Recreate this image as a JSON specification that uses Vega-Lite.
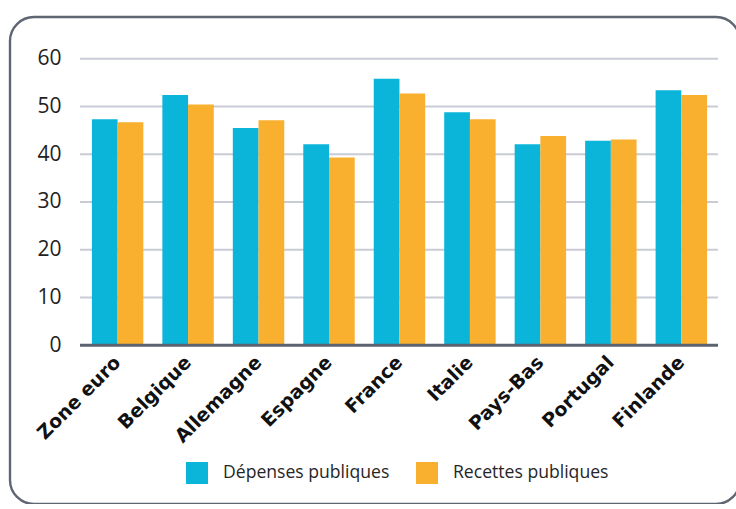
{
  "$schema": "https://vega.github.io/schema/vega-lite/v6.json",
  "width": 730,
  "height": 487,
  "autosize": "none",
  "padding": {"left": 10, "top": 17, "right": 0, "bottom": 0},
  "background": "#ffffff",
  "config": {
    "font": "Open Sans",
    "view": {"stroke": "#5f6672", "strokeWidth": 2.4, "cornerRadius": 24},
    "axisY": {
      "title": null,
      "domain": false, "ticks": false, "grid": false,
      "offset": -51, "labelPadding": 0, "labelOverlap": false,
      "labelFont": "Open Sans", "labelFontSize": 21, "labelColor": "#222222"
    }
  },
  "datasets": {
    "finances": [
      {"pays": "Zone euro", "serie": "Dépenses publiques", "v": 47.3},
      {"pays": "Zone euro", "serie": "Recettes publiques", "v": 46.7},
      {"pays": "Belgique", "serie": "Dépenses publiques", "v": 52.4},
      {"pays": "Belgique", "serie": "Recettes publiques", "v": 50.4},
      {"pays": "Allemagne", "serie": "Dépenses publiques", "v": 45.5},
      {"pays": "Allemagne", "serie": "Recettes publiques", "v": 47.1},
      {"pays": "Espagne", "serie": "Dépenses publiques", "v": 42.1},
      {"pays": "Espagne", "serie": "Recettes publiques", "v": 39.3},
      {"pays": "France", "serie": "Dépenses publiques", "v": 55.8},
      {"pays": "France", "serie": "Recettes publiques", "v": 52.7},
      {"pays": "Italie", "serie": "Dépenses publiques", "v": 48.8},
      {"pays": "Italie", "serie": "Recettes publiques", "v": 47.3},
      {"pays": "Pays-Bas", "serie": "Dépenses publiques", "v": 42.1},
      {"pays": "Pays-Bas", "serie": "Recettes publiques", "v": 43.8},
      {"pays": "Portugal", "serie": "Dépenses publiques", "v": 42.8},
      {"pays": "Portugal", "serie": "Recettes publiques", "v": 43.1},
      {"pays": "Finlande", "serie": "Dépenses publiques", "v": 53.4},
      {"pays": "Finlande", "serie": "Recettes publiques", "v": 52.4}
    ],
    "grille": [
      {"v": 10, "debut": 0, "fin": 1},
      {"v": 20, "debut": 0, "fin": 1},
      {"v": 30, "debut": 0, "fin": 1},
      {"v": 40, "debut": 0, "fin": 1},
      {"v": 50, "debut": 0, "fin": 1},
      {"v": 60, "debut": 0, "fin": 1}
    ],
    "base": [
      {"v": 0, "debut": 0, "fin": 1}
    ]
  },
  "layer": [
    {
      "data": {"name": "grille"},
      "mark": {"type": "rule", "color": "#c9ccd5", "strokeWidth": 2},
      "encoding": {
        "x": {"field": "debut", "type": "quantitative", "scale": {"domain": [-0.1097, 1.0345], "nice": false, "zero": false}, "axis": null},
        "x2": {"field": "fin"},
        "y": {"field": "v", "type": "quantitative", "title": null, "scale": {"domain": [-33.26, 68.73], "nice": false, "zero": false}, "axis": {"values": [0, 10, 20, 30, 40, 50, 60]}}
      }
    },
    {
      "data": {"name": "finances"},
      "mark": {"type": "bar"},
      "encoding": {
        "x": {
          "field": "pays", "type": "nominal", "sort": null,
          "scale": {"paddingInner": 0.27, "paddingOuter": 0.815, "align": 0.713},
          "axis": {
            "title": null, "domain": false, "ticks": false, "grid": false,
            "offset": -159, "labelPadding": 14,
            "labelAngle": -45, "labelAlign": "right", "labelBaseline": "middle",
            "labelFont": "DejaVu Sans", "labelFontWeight": "bold", "labelFontSize": 19,
            "labelColor": "#111111", "labelLimit": 0, "labelOverlap": false
          }
        },
        "xOffset": {"field": "serie", "type": "nominal", "sort": ["Dépenses publiques", "Recettes publiques"]},
        "y": {"field": "v", "type": "quantitative", "title": null, "scale": {"domain": [-33.26, 68.73], "nice": false, "zero": false}, "axis": {"values": [0, 10, 20, 30, 40, 50, 60]}},
        "y2": {"datum": 0},
        "color": {
          "field": "serie", "type": "nominal",
          "scale": {"domain": ["Dépenses publiques", "Recettes publiques"], "range": ["#0bb5d9", "#f9b02f"]},
          "legend": {
            "title": null, "orient": "none", "legendX": 176, "legendY": 445,
            "direction": "horizontal", "padding": 0,
            "symbolType": "square", "symbolSize": 484, "symbolStrokeWidth": 0,
            "labelFont": "Open Sans", "labelFontSize": 17.6, "labelColor": "#262626",
            "labelOffset": 15, "columnPadding": 26, "labelLimit": 400
          }
        }
      }
    },
    {
      "data": {"name": "base"},
      "mark": {"type": "rule", "color": "#5c6370", "strokeWidth": 3},
      "encoding": {
        "x": {"field": "debut", "type": "quantitative", "scale": {"domain": [-0.1097, 1.0345], "nice": false, "zero": false}, "axis": null},
        "x2": {"field": "fin"},
        "y": {"field": "v", "type": "quantitative", "title": null, "scale": {"domain": [-33.26, 68.73], "nice": false, "zero": false}, "axis": {"values": [0, 10, 20, 30, 40, 50, 60]}}
      }
    }
  ],
  "resolve": {"scale": {"x": "independent"}, "axis": {"x": "independent"}}
}
